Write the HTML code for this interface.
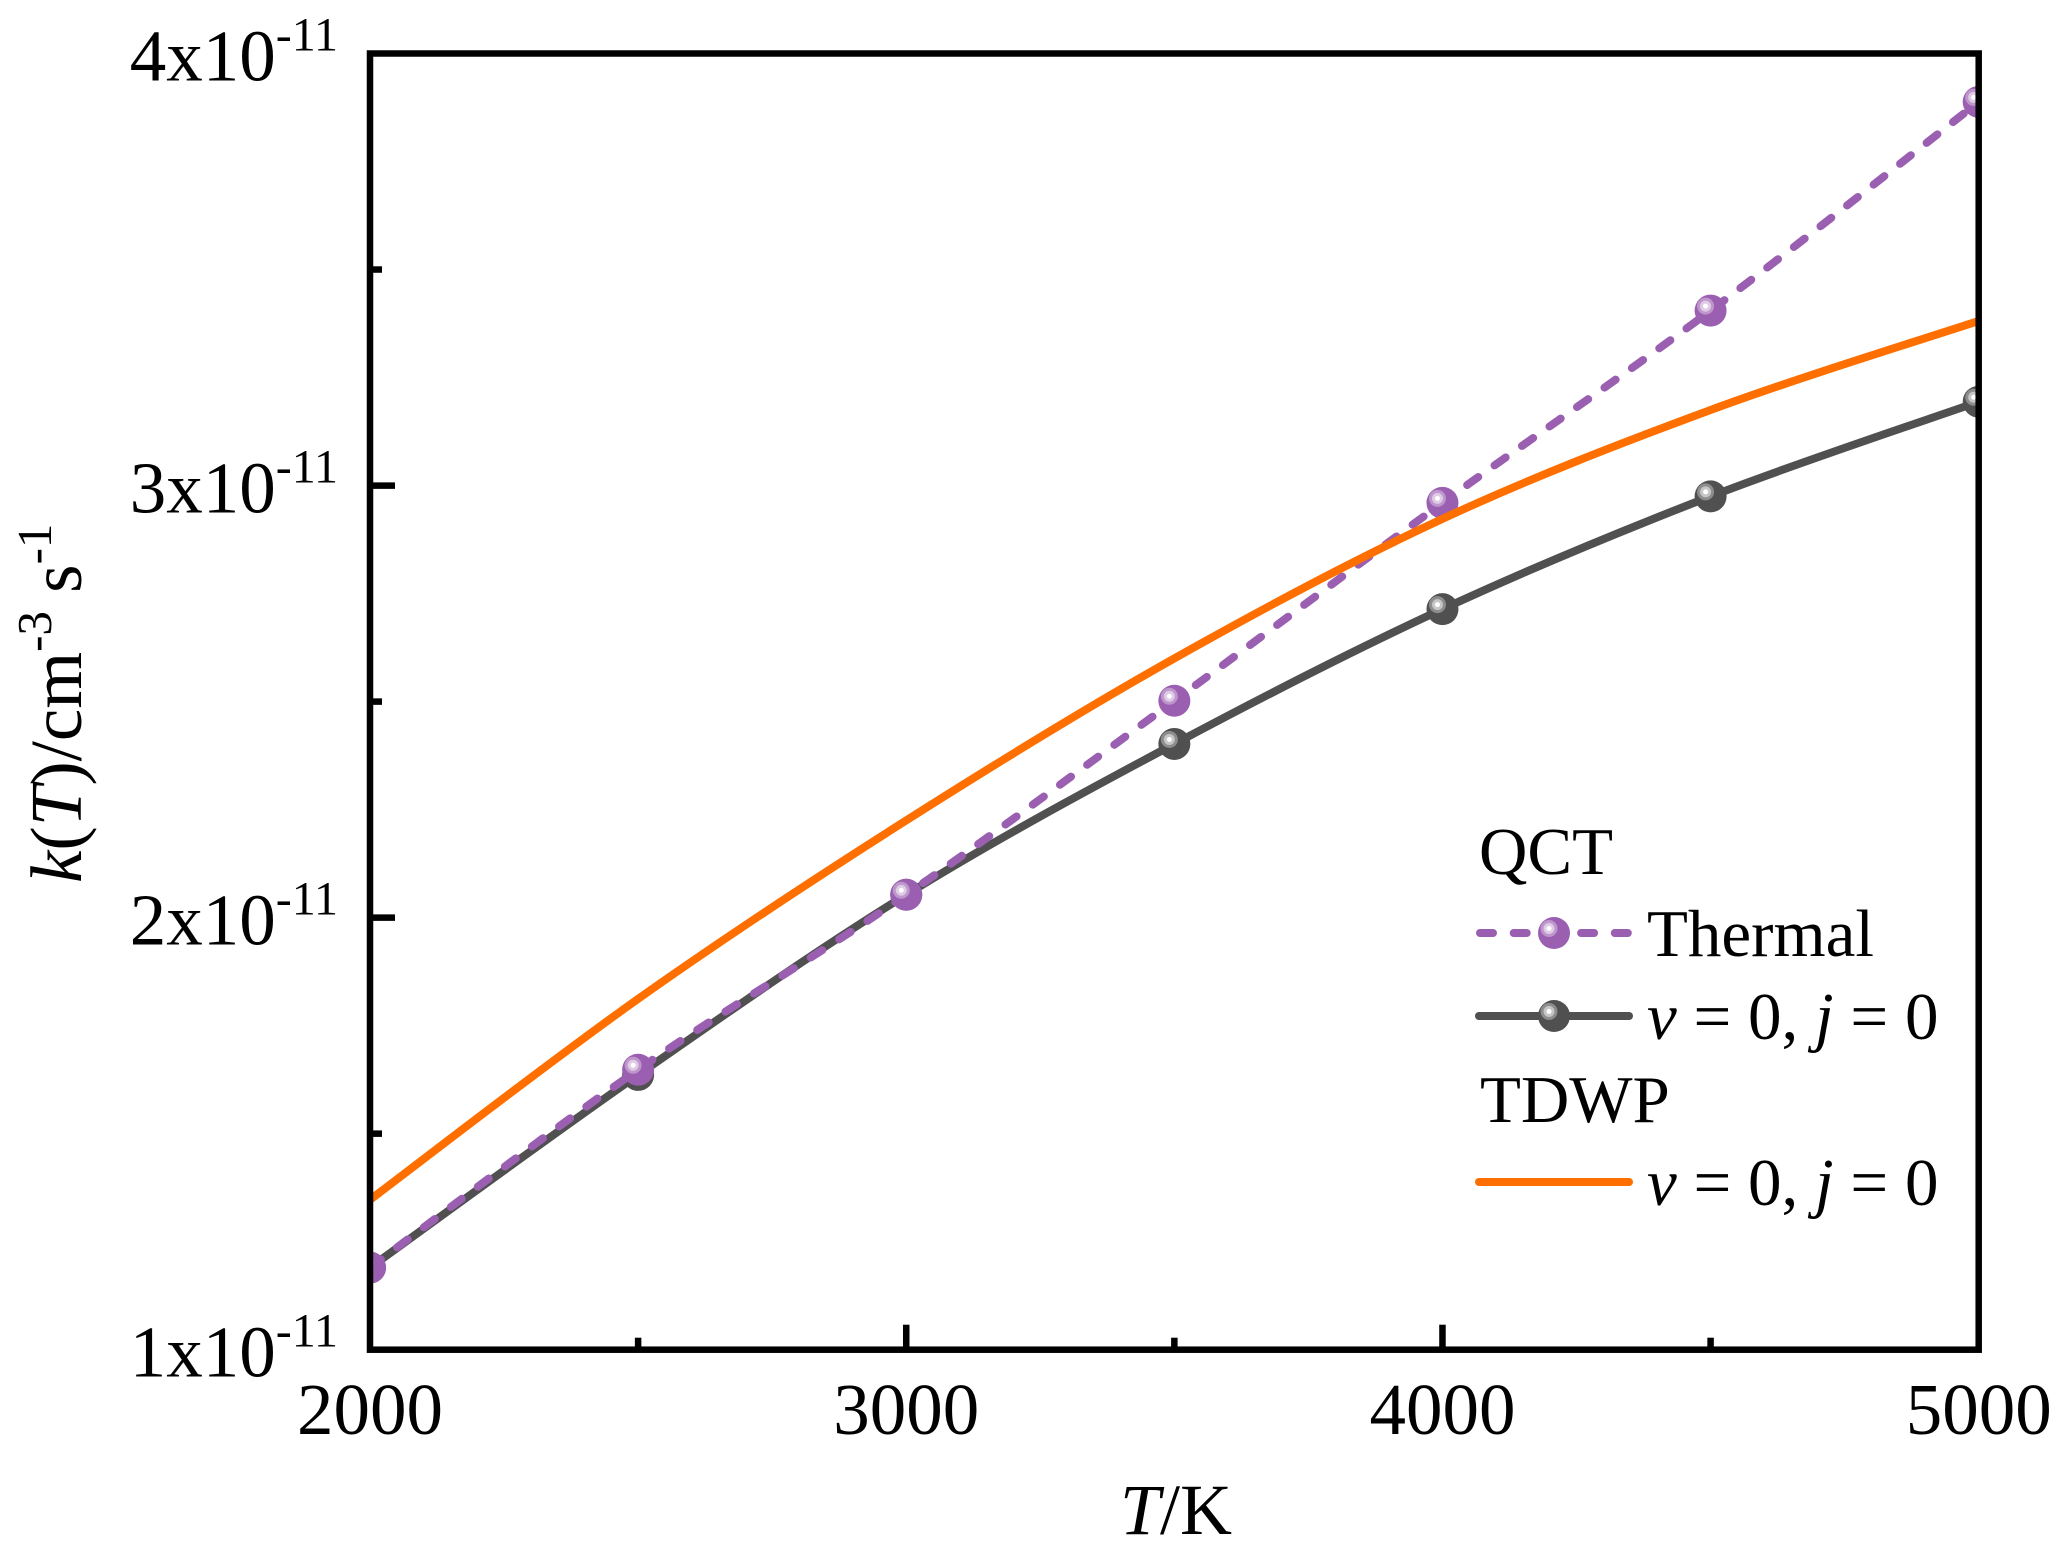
<!DOCTYPE html>
<html lang="en">
<head>
<meta charset="utf-8">
<title>k(T) versus T</title>
<style>
  html, body { margin: 0; padding: 0; background: #ffffff; }
  svg { display: block; }
  text { font-family: "Liberation Serif", "Times New Roman", serif; fill: #000; }
</style>
</head>
<body>
<svg id="chart" xmlns="http://www.w3.org/2000/svg" width="2067" height="1553" viewBox="0 0 2067 1553">
  <defs>
    <clipPath id="plot-clip"><rect x="370" y="53.5" width="1608.5" height="1296"></rect></clipPath>
  </defs>
  <g id="series-layer" clip-path="url(#plot-clip)"></g>
  <g id="axes-layer"></g>

  <text x="1120" y="1534" font-size="72"><tspan font-style="italic">T</tspan>/K</text>
  <text transform="translate(81,883) rotate(-90)" font-size="73" xml:space="preserve"><tspan font-style="italic">k</tspan>(<tspan font-style="italic">T</tspan>)/cm<tspan font-size="49" dy="-30">-3</tspan><tspan dy="30"> s</tspan><tspan font-size="49" dy="-30">-1</tspan></text>

  <g id="legend" font-size="67">
    <text x="1479" y="874" font-size="67">QCT</text>
    <g>
      <line x1="1480" y1="933" x2="1628" y2="933" stroke="#9b5fb1" stroke-width="8" stroke-linecap="round" stroke-dasharray="13 20.7"></line>
      <g id="legend-marker-thermal"></g>
      <text x="1647" y="956" font-size="67">Thermal</text>
    </g>
    <g>
      <line x1="1479" y1="1016" x2="1629" y2="1016" stroke="#505050" stroke-width="8" stroke-linecap="round"></line>
      <g id="legend-marker-gray"></g>
      <text x="1647" y="1039" font-size="67" xml:space="preserve"><tspan font-style="italic">v</tspan> = 0, <tspan font-style="italic">j</tspan> = 0</text>
    </g>
    <text x="1480" y="1122" font-size="67">TDWP</text>
    <g>
      <line x1="1479" y1="1182" x2="1629" y2="1182" stroke="#ff6f00" stroke-width="8" stroke-linecap="round"></line>
      <text x="1647" y="1205" font-size="67" xml:space="preserve"><tspan font-style="italic">v</tspan> = 0, <tspan font-style="italic">j</tspan> = 0</text>
    </g>
  </g>
</svg>
<script>
// Chart data (k in units of 1e-11 cm^3 s^-1)
var temperatures = [2000, 2500, 3000, 3500, 4000, 4500, 5000];
var thermalValues = [1.19, 1.648, 2.053, 2.502, 2.96, 3.405, 3.888];
var qctGroundValues = [1.19, 1.636, 2.053, 2.402, 2.714, 2.975, 3.194];
var tdwpGroundValues = [1.347, 1.812, 2.225, 2.6, 2.923, 3.175, 3.381];
var xTickValues = [2000, 3000, 4000, 5000];
var xMinorTickValues = [2500, 3500, 4500];
var yTickValues = [1, 2, 3, 4];
var yMinorTickValues = [1.5, 2.5, 3.5];
var yTickExponent = '-11';

var NS = 'http://www.w3.org/2000/svg';
var plotLeft = 370, plotRight = 1978.7, plotTop = 53.5, plotBottom = 1349.7;
var xMin = 2000, xMax = 5000, yMin = 1, yMax = 4;

function xScale(v) { return plotLeft + (v - xMin) / (xMax - xMin) * (plotRight - plotLeft); }
function yScale(v) { return plotBottom - (v - yMin) / (yMax - yMin) * (plotBottom - plotTop); }

function make(tag, parent) {
  var el = document.createElementNS(NS, tag);
  parent.appendChild(el);
  return el;
}

function splinePath(xs, ys) {
  var pts = xs.map(function (x, i) { return [xScale(x), yScale(ys[i])]; });
  var d = 'M' + pts[0][0] + ' ' + pts[0][1];
  for (var i = 0; i < pts.length - 1; i++) {
    var p0 = pts[Math.max(i - 1, 0)], p1 = pts[i], p2 = pts[i + 1], p3 = pts[Math.min(i + 2, pts.length - 1)];
    d += ' C' + (p1[0] + (p2[0] - p0[0]) / 6) + ' ' + (p1[1] + (p2[1] - p0[1]) / 6) + ' ' +
         (p2[0] - (p3[0] - p1[0]) / 6) + ' ' + (p2[1] - (p3[1] - p1[1]) / 6) + ' ' + p2[0] + ' ' + p2[1];
  }
  return d;
}

function drawMarker(parent, cx, cy, color, name) {
  var g = make('g', parent);
  
  
  var base = make('circle', g);
  base.setAttribute('cx', cx);
  base.setAttribute('cy', cy);
  base.setAttribute('r', 16);
  base.setAttribute('fill', color);
  var rings = [[8.5, 0.35], [5.5, 0.5], [2.5, 1]];
  rings.forEach(function (ring) {
    var c = make('circle', g);
    c.setAttribute('cx', cx - 5);
    c.setAttribute('cy', cy - 4.5);
    c.setAttribute('r', ring[0]);
    c.setAttribute('fill', '#ffffff');
    c.setAttribute('fill-opacity', ring[1]);
  });
}

var seriesLayer = document.getElementById('series-layer');
var axesLayer = document.getElementById('axes-layer');

// QCT v=0, j=0
var grayLine = make('path', seriesLayer);


grayLine.setAttribute('d', splinePath(temperatures, qctGroundValues));
grayLine.setAttribute('fill', 'none');
grayLine.setAttribute('stroke', '#505050');
grayLine.setAttribute('stroke-width', '8');
temperatures.forEach(function (t, i) {
  drawMarker(seriesLayer, xScale(t), yScale(qctGroundValues[i]), '#505050', 'qct-ground-state-point');
});

// QCT thermal
var thermalLine = make('path', seriesLayer);


thermalLine.setAttribute('d', splinePath(temperatures, thermalValues));
thermalLine.setAttribute('fill', 'none');
thermalLine.setAttribute('stroke', '#9b5fb1');
thermalLine.setAttribute('stroke-width', '8');
thermalLine.setAttribute('stroke-linecap', 'round');
thermalLine.setAttribute('stroke-dasharray', '13.7 20');
temperatures.forEach(function (t, i) {
  drawMarker(seriesLayer, xScale(t), yScale(thermalValues[i]), '#9b5fb1', 'qct-thermal-point');
});

// TDWP v=0, j=0
var orangeLine = make('path', seriesLayer);


orangeLine.setAttribute('d', splinePath(temperatures, tdwpGroundValues));
orangeLine.setAttribute('fill', 'none');
orangeLine.setAttribute('stroke', '#ff6f00');
orangeLine.setAttribute('stroke-width', '8');

// Frame
var frame = make('rect', axesLayer);


frame.setAttribute('x', plotLeft);
frame.setAttribute('y', plotTop);
frame.setAttribute('width', plotRight - plotLeft);
frame.setAttribute('height', plotBottom - plotTop);
frame.setAttribute('fill', 'none');
frame.setAttribute('stroke', '#000');
frame.setAttribute('stroke-width', '6.5');

function drawXTick(v, len) {
  var t = make('line', axesLayer);
  
  
  t.setAttribute('x1', xScale(v));
  t.setAttribute('x2', xScale(v));
  t.setAttribute('y1', plotBottom);
  t.setAttribute('y2', plotBottom - len);
  t.setAttribute('stroke', '#000');
  t.setAttribute('stroke-width', '6.5');
}

function drawYTick(v, len) {
  var t = make('line', axesLayer);
  
  
  t.setAttribute('x1', plotLeft);
  t.setAttribute('x2', plotLeft + len);
  t.setAttribute('y1', yScale(v));
  t.setAttribute('y2', yScale(v));
  t.setAttribute('stroke', '#000');
  t.setAttribute('stroke-width', '6.5');
}

xTickValues.forEach(function (v) {
  if (v !== xMin && v !== xMax) drawXTick(v, 25);
  var label = make('text', axesLayer);
  
  
  label.setAttribute('x', xScale(v));
  label.setAttribute('y', 1434);
  label.setAttribute('font-size', '73');
  label.setAttribute('text-anchor', 'middle');
  label.textContent = String(v);
});
xMinorTickValues.forEach(function (v) { drawXTick(v, 12); });

yTickValues.forEach(function (v) {
  if (v !== yMin && v !== yMax) drawYTick(v, 25);
  var label = make('text', axesLayer);
  
  
  label.setAttribute('x', 338);
  label.setAttribute('y', yScale(v) + 27);
  label.setAttribute('font-size', '73');
  label.setAttribute('text-anchor', 'end');
  label.appendChild(document.createTextNode(v + 'x10'));
  var sup = make('tspan', label);
  sup.setAttribute('font-size', '48');
  sup.setAttribute('dy', '-30');
  sup.textContent = yTickExponent;
});
yMinorTickValues.forEach(function (v) { drawYTick(v, 12); });

// Legend markers
drawMarker(document.getElementById('legend-marker-thermal'), 1554, 933, '#9b5fb1', 'legend-marker-thermal');
drawMarker(document.getElementById('legend-marker-gray'), 1554, 1016, '#505050', 'legend-marker-qct-v0j0');
</script>
</body>
</html>
